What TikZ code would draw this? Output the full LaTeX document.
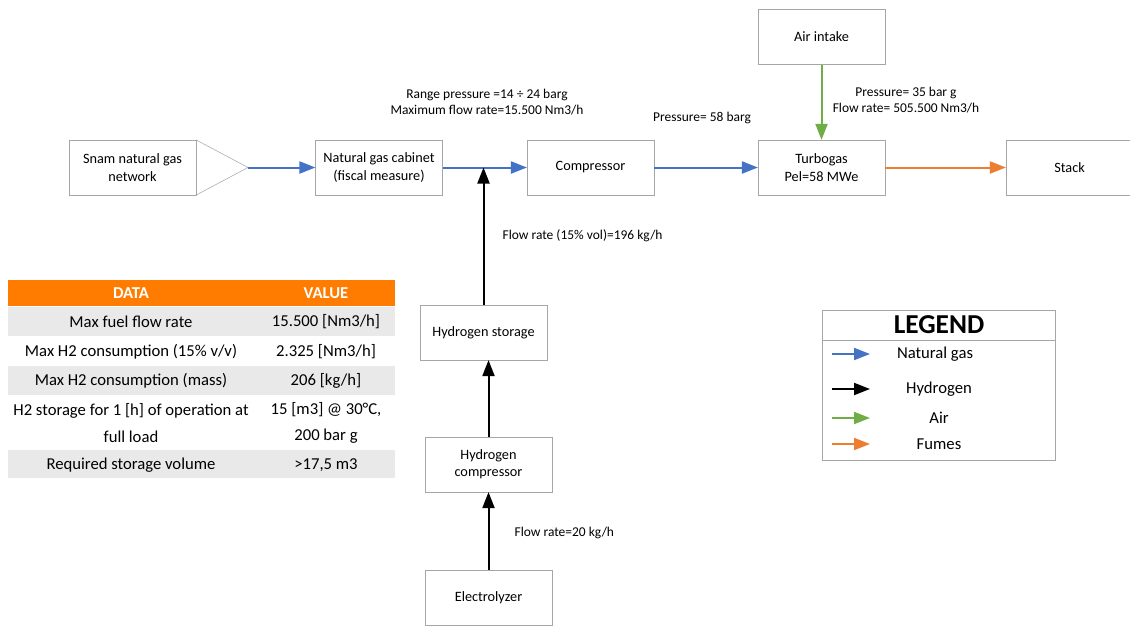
\documentclass[tikz,border=0pt]{standalone}
\usepackage{fontspec}
\setmainfont{Carlito}
\usetikzlibrary{arrows.meta}
\definecolor{gasblue}{HTML}{4472C4}
\definecolor{fumeorange}{HTML}{ED7D31}
\definecolor{airgreen}{HTML}{70AD47}
\definecolor{headorange}{HTML}{FF7C00}
\definecolor{rowgray}{HTML}{E9E9E9}
\definecolor{boxgray}{HTML}{A6A6A6}

\begin{document}
\begin{tikzpicture}[x=0.75pt,y=-0.75pt,
    unit box/.style={draw=boxgray,fill=white,minimum width=95pt,minimum height=41pt,align=center,inner sep=2pt,font=\fontsize{10.7}{13}\selectfont},
    flow/.style={line width=1.5pt,-{Triangle[length=12pt,width=9pt]}},
    gas flow/.style={flow,draw=gasblue,fill=gasblue},
    h2 flow/.style={flow,draw=black,fill=black},
    air flow/.style={flow,draw=airgreen,fill=airgreen},
    fume flow/.style={flow,draw=fumeorange,fill=fumeorange},
    note/.style={align=center,inner sep=1pt,font=\fontsize{10.1}{12.5}\selectfont},
    cell/.style={align=center,inner sep=1pt,font=\fontsize{12.5}{20}\selectfont},
    head cell/.style={cell,text=white,font=\fontsize{12.5}{14}\selectfont\bfseries},
    legend text/.style={inner sep=1pt,font=\fontsize{12.5}{14}\selectfont}]
    \useasboundingbox (0,0) rectangle (1130,625);

    % main gas line
    \node[unit box] (snam) at (132.5,167.5) {Snam natural gas\\network};
    \coordinate (apex) at (248,167.5);
    \draw[boxgray] (snam.north east) -- (apex) -- (snam.south east);
    \node[unit box] (cabinet) at (379,167.5) {Natural gas cabinet\\(fiscal measure)};
    \node[unit box] (compressor) at (590.5,167.5) {Compressor};
    \node[unit box] (turbogas) at (821.5,167.5) {Turbogas\\Pel=58 MWe};
    \node[unit box] (stack) at (1069.5,167.5) {Stack};
    \node[unit box] (air) at (821.5,37) {Air intake};

    % hydrogen line
    \node[unit box] (storage) at (483.5,332.5) {Hydrogen storage};
    \node[unit box] (hcomp) at (488.5,464.5) {Hydrogen\\compressor};
    \node[unit box] (electrolyzer) at (488.5,597.5) {Electrolyzer};

    \draw[gas flow] (apex) -- (cabinet);
    \draw[gas flow] (cabinet) -- (compressor);
    \draw[gas flow] (compressor) -- (turbogas);
    \draw[fume flow] (turbogas) -- (stack);
    \draw[air flow] (air) -- (turbogas);
    \draw[h2 flow] (storage.north) -- (storage.north |- cabinet.east);
    \draw[h2 flow] (hcomp) -- (storage.south -| hcomp.north);
    \draw[h2 flow] (electrolyzer) -- (hcomp);

    % flow labels
    \node[note] (range) at (487,102) {Range pressure =14 ÷ 24 barg\\Maximum flow rate=15.500 Nm3/h};
    \node[note] (p58) at (702,118) {Pressure= 58 barg};
    \node[note] (p35) at (906,100) {Pressure= 35 bar g\\Flow rate= 505.500 Nm3/h};
    \node[note,anchor=west] (h2rate) at (501,236) {Flow rate (15\% vol)=196 kg/h};
    \node[note,anchor=west] (elrate) at (513,533) {Flow rate=20 kg/h};

    % data table
    \fill[headorange] (8,280) rectangle (395,306);
    \fill[rowgray] (8,307) rectangle (395,336);
    \fill[rowgray] (8,366) rectangle (395,395);
    \fill[rowgray] (8,450) rectangle (395,478);
    \node[head cell] (datahead) at (131,293) {DATA};
    \node[head cell] (valuehead) at (326,293) {VALUE};
    \node[cell] (d1) at (131,322) {Max fuel flow rate};
    \node[cell] (v1) at (326,322) {15.500 [Nm3/h]};
    \node[cell] (d2) at (131,352) {Max H2 consumption (15\% v/v)};
    \node[cell] (v2) at (326,352) {2.325 [Nm3/h]};
    \node[cell] (d3) at (131,381) {Max H2 consumption (mass)};
    \node[cell] (v3) at (326,381) {206 [kg/h]};
    \node[cell] (d4) at (131,423) {H2 storage for 1 [h] of operation at\\full load};
    \node[cell] (v4) at (326,423) {15 [m3] @ 30°C,\\200 bar g};
    \node[cell] (d5) at (131,465) {Required storage volume};
    \node[cell] (v5) at (326,465) {>17,5 m3};

    % legend
    \draw[boxgray] (822,310) rectangle (1055,460);
    \draw[boxgray] (822,340) -- (1055,340);
    \node[font=\fontsize{20.5}{22}\selectfont\bfseries] (legend) at (939,325) {LEGEND};
    \foreach \y/\kind/\txt/\cx in {354/gas flow/Natural gas/935, 389/h2 flow/Hydrogen/939, 418/air flow/Air/939, 444/fume flow/Fumes/939}
        \draw[\kind] (832,\y) -- (870,\y) node[legend text,black] at (\cx,\y) {\txt};
\end{tikzpicture}
\end{document}
